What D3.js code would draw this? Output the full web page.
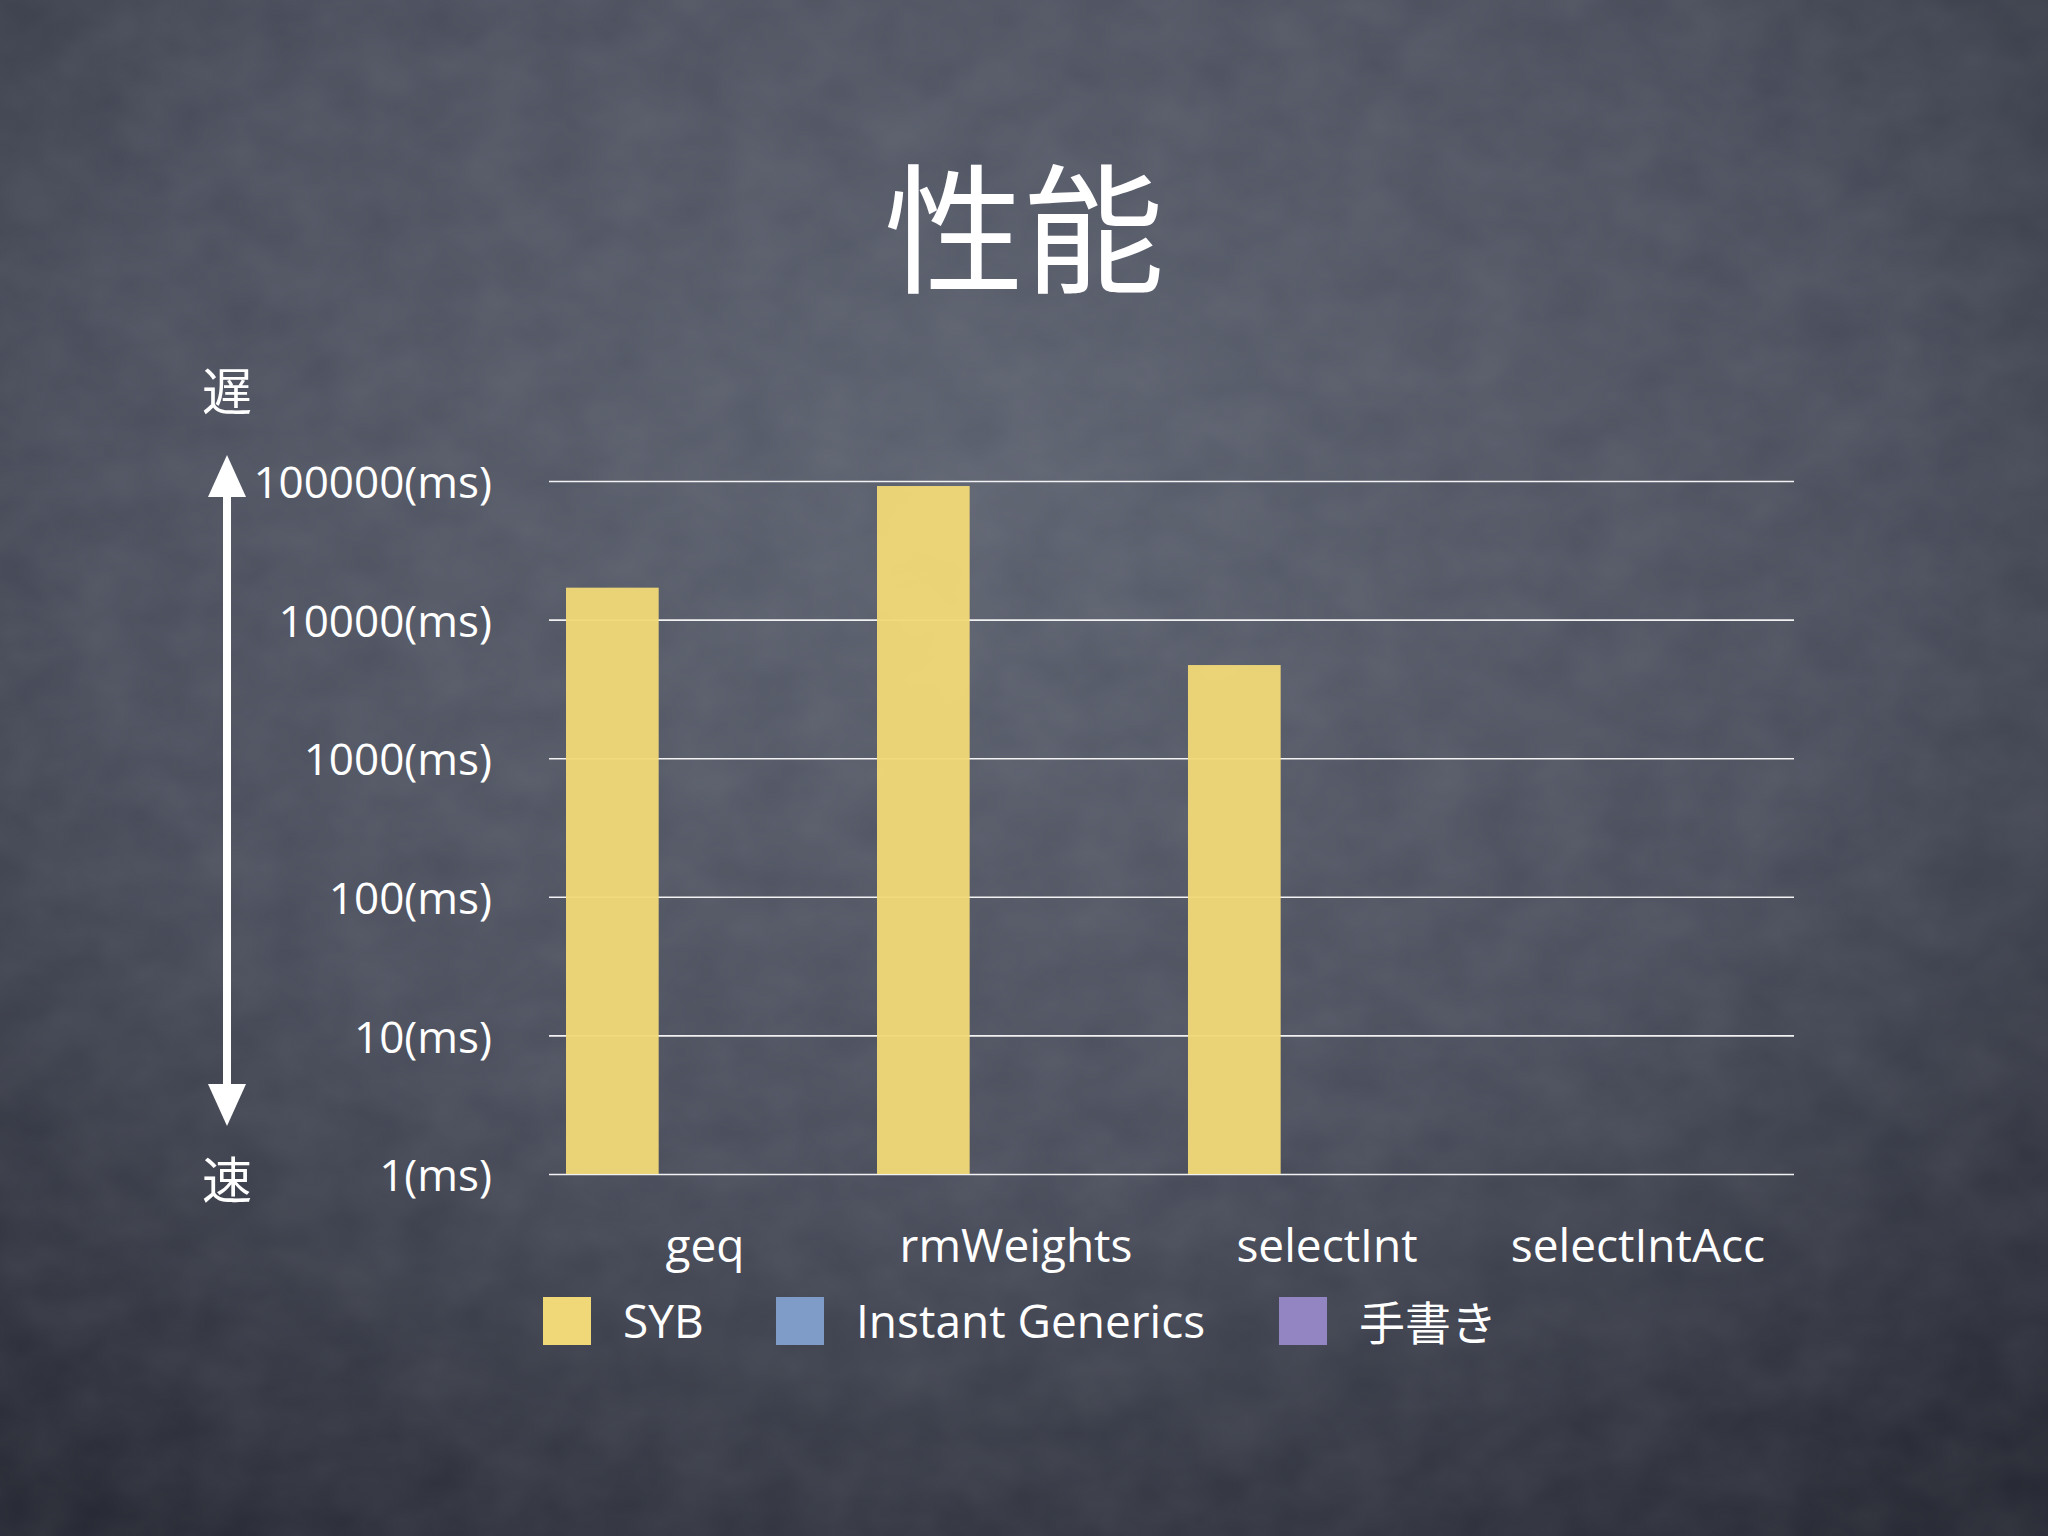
<!DOCTYPE html>
<html>
<head>
<meta charset="utf-8">
<script src="https://cdn.jsdelivr.net/npm/d3@7.9.0/dist/d3.min.js"></script>
<style>
  html, body { margin: 0; padding: 0; background: #3a3d48; }
  svg { display: block; }
  .ylab text, .xlab text { fill: #fff; }
</style>
</head>
<body>
<div id="chart"></div>
<script>
const categories = ['geq', 'rmWeights', 'selectInt', 'selectIntAcc'];
const seriesNames = ['SYB', 'Instant Generics', '手書き'];
const seriesColors = ['#f0d778', '#7f9cc8', '#9384c2'];
// times in ms, null = no bar drawn
const sybTimes = [17000, 92000, 4700, null];
const instantTimes = [null, null, null, null];
const handTimes = [null, null, null, null];
const yTicks = [1, 10, 100, 1000, 10000, 100000];

const W = 2048, H = 1536;
const plot = { left: 549, right: 1794, top: 481, bottom: 1174 };

const svg = d3.select('#chart').append('svg')
  .attr('width', W).attr('height', H)
  .attr('viewBox', `0 0 ${W} ${H}`);

const defs = svg.append('defs');
const grad = defs.append('radialGradient')
  .attr('id', 'board').attr('cx', '48%').attr('cy', '32%').attr('r', '80%');
grad.append('stop').attr('offset', '0%').attr('stop-color', '#5b606e');
grad.append('stop').attr('offset', '55%').attr('stop-color', '#494d5b');
grad.append('stop').attr('offset', '100%').attr('stop-color', '#242731');

const chalk = defs.append('filter').attr('id', 'chalk')
  .attr('x', 0).attr('y', 0).attr('width', '100%').attr('height', '100%');
chalk.append('feTurbulence').attr('type', 'fractalNoise')
  .attr('baseFrequency', '0.015 0.02').attr('numOctaves', 3).attr('seed', 4);
chalk.append('feColorMatrix').attr('type', 'matrix')
  .attr('values', '0 0 0 0 1  0 0 0 0 1  0 0 0 0 1  0 0 0 0.08 0');

svg.append('rect').attr('width', W).attr('height', H).attr('fill', 'url(#board)');
svg.append('rect').attr('width', W).attr('height', H).attr('filter', 'url(#chalk)');

// title
svg.append('text')
  .attr('x', 1024).attr('y', 221)
  .attr('text-anchor', 'middle').attr('dominant-baseline', 'central')
  .attr('font-family', '"Noto Sans CJK JP", "Noto Sans CJK SC", sans-serif')
  .attr('font-size', 140).attr('fill', '#fff')
  .text('性能');

const y = d3.scaleLog().domain([1, 100000]).range([plot.bottom, plot.top]);

const x0 = d3.scaleBand()
  .domain(categories)
  .range([plot.left, plot.right])
  .paddingInner(0.106)
  .paddingOuter(0.0547);

const x1 = d3.scaleBand()
  .domain(seriesNames)
  .range([0, x0.bandwidth()]);

// gridlines + y labels
const yAxis = svg.append('g')
  .attr('class', 'ylab')
  .attr('transform', `translate(${plot.left},0)`)
  .call(d3.axisLeft(y)
    .tickValues(yTicks)
    .tickSize(-(plot.right - plot.left))
    .tickPadding(57)
    .tickFormat(d => `${d}(ms)`));
yAxis.select('.domain').remove();
yAxis.selectAll('line').attr('stroke', '#f2f2f2').attr('stroke-width', 1.6);
yAxis.selectAll('text')
  .attr('font-family', '"Open Sans", "DejaVu Sans", sans-serif')
  .attr('font-size', 44)
  .attr('dy', '0.38em');

// bars
const seriesData = [sybTimes, instantTimes, handTimes];
const rows = [];
categories.forEach((cat, i) => {
  seriesNames.forEach((s, j) => {
    const v = seriesData[j][i];
    if (v != null) rows.push({ cat, s, v, color: seriesColors[j] });
  });
});

svg.append('g').selectAll('rect')
  .data(rows)
  .join('rect')
    .attr('x', d => x0(d.cat) + x1(d.s))
    .attr('y', d => y(d.v))
    .attr('width', x1.bandwidth())
    .attr('height', d => y(1) - y(d.v))
    .attr('fill', d => d.color)
    .attr('fill-opacity', 0.96);

// category labels
const xAxis = svg.append('g')
  .attr('class', 'xlab')
  .attr('transform', `translate(0,${plot.bottom})`)
  .call(d3.axisBottom(x0).tickSize(0).tickPadding(55));
xAxis.select('.domain').remove();
xAxis.selectAll('text')
  .attr('font-family', '"Open Sans", "DejaVu Sans", sans-serif')
  .attr('font-size', 46);

// slow / fast arrow
const arrowX = 227;
const arrow = svg.append('g').attr('fill', '#fff');
arrow.append('rect')
  .attr('x', arrowX - 4).attr('y', 490).attr('width', 8).attr('height', 600);
arrow.append('path')
  .attr('d', `M${arrowX},455 L${arrowX + 19},497 L${arrowX - 19},497 Z`);
arrow.append('path')
  .attr('d', `M${arrowX},1126 L${arrowX + 19},1084 L${arrowX - 19},1084 Z`);

svg.append('g')
  .attr('font-family', '"Noto Sans CJK JP", sans-serif')
  .attr('font-size', 50).attr('fill', '#fff')
  .attr('text-anchor', 'middle').attr('dominant-baseline', 'central')
  .selectAll('text')
  .data([['遅', 388], ['速', 1177]])
  .join('text')
    .attr('x', arrowX).attr('y', d => d[1])
    .text(d => d[0]);

// legend
const legendX = [543, 776, 1279];
const legend = svg.append('g').selectAll('g')
  .data(seriesNames)
  .join('g')
    .attr('transform', (d, i) => `translate(${legendX[i]},1297)`);
legend.append('rect')
  .attr('width', 48).attr('height', 48)
  .attr('fill', (d, i) => seriesColors[i]);
legend.append('text')
  .attr('x', 80).attr('y', 23)
  .attr('dominant-baseline', 'central')
  .attr('font-family', d => /[^\x00-\x7f]/.test(d)
    ? '"Noto Sans CJK JP", sans-serif'
    : '"Open Sans", "DejaVu Sans", sans-serif')
  .attr('font-size', 46).attr('fill', '#fff')
  .text(d => d);
</script>
</body>
</html>
